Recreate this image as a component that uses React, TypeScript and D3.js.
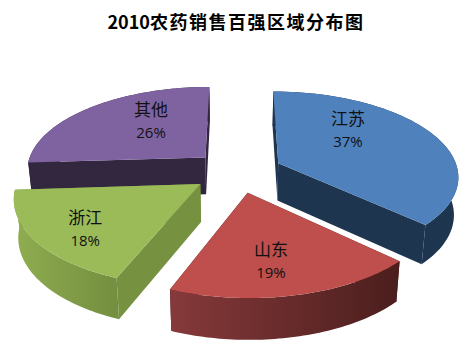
import React from "react";
import * as d3 from "d3";

const categories = ["江苏", "山东", "浙江", "其他"];
const values = [37, 19, 18, 26];
const labels = ["37%", "19%", "18%", "26%"];
const topColors = ["#4F81BD", "#BE4F4C", "#9BBB59", "#7F63A1"];
const faceColors = ["#1E3550", "#4E1F1E", "#769140", "#33263F"];
const arcColorsLeft = ["#1E3550", "#86393A", "#8FAD50", "#33263F"];
const arcColorsRight = ["#1E3550", "#4B1E1D", "#748F40", "#33263F"];
const drawOrder = [3, 0, 2, 1];
// label anchor, relative to each slice's apex, in units of the pie radius
const labelOffsetX = [0.43, 0.107, -0.57, -0.342];
const labelOffsetY = [-0.43, 0.683, 0.478, -0.486];

const cx = 237.5, cy = 171.5, Rx = 180, Ry = 84, persp = 0.14, explode = 0.25;

type P = [number, number];
const project = (X: number, Y: number): P => {
  const w = 1 - persp * Y;
  return [cx + (Rx * X) / w, cy + (Ry * Y) / w];
};
const drop = ([x, y]: P): P => [x + (cx - x) * 0.02, y + 37 + (y - 160) * 0.035];
const line = d3.line<P>().curve(d3.curveLinear);

const pieGen = d3.pie<number>().sort(null).startAngle(0).endAngle(2 * Math.PI);
const arcs = pieGen(values);

export default function App() {
  const slices = arcs.map((a, i) => {
    // d3 angle 0 = 12 o'clock, clockwise
    const t0 = a.startAngle - Math.PI / 2;
    const t1 = a.endAngle - Math.PI / 2;
    const mid = (t0 + t1) / 2;
    const ox = explode * Math.cos(mid);
    const oy = explode * Math.sin(mid);
    const apex = project(ox, oy);
    const outer: P[] = d3.range(0, 61).map((k) => {
      const t = t0 + ((t1 - t0) * k) / 60;
      return project(ox + Math.cos(t), oy + Math.sin(t));
    });
    const top = [apex, ...outer];
    const arcSide = [...outer, ...outer.map(drop).reverse()];
    const startFace = [apex, outer[0], drop(outer[0]), drop(apex)];
    const endFace = [apex, outer[60], drop(outer[60]), drop(apex)];
    const xs = outer.map((p) => p[0]);
    const lab = project(ox + labelOffsetX[i], oy + labelOffsetY[i]);
    return { i, top, arcSide, startFace, endFace, x0: d3.min(xs)!, x1: d3.max(xs)!, lab };
  });
  return (
    <svg width={474} height={358} style={{ position: "absolute", left: 0, top: 0, background: "#fff" }}>
      <defs>
        {slices.map((s) => (
          <linearGradient key={s.i} id={`g${s.i}`} gradientUnits="userSpaceOnUse" x1={s.x0} x2={s.x1} y1={0} y2={0}>
            <stop offset="0" stopColor={arcColorsLeft[s.i]} />
            <stop offset="1" stopColor={arcColorsRight[s.i]} />
          </linearGradient>
        ))}
      </defs>
      <text x={236} y={29} textAnchor="middle" fontFamily="'Noto Sans CJK SC'" fontWeight="700" fontSize={18} fill="#000">
        <tspan>2010</tspan>
        <tspan letterSpacing={1.5}>农药销售百强区域分布图</tspan>
      </text>
      {drawOrder.map((i) => {
        const s = slices[i];
        return (
          <g key={i}>
            <path d={line(s.startFace)! + "Z"} fill={faceColors[i]} />
            <path d={line(s.endFace)! + "Z"} fill={faceColors[i]} />
            <path d={line(s.arcSide)! + "Z"} fill={`url(#g${i})`} />
            <path d={line(s.top)! + "Z"} fill={topColors[i]} />
          </g>
        );
      })}
      {slices.map((s) => (
        <g key={s.i} fontSize={17} fill="#111" textAnchor="middle" fontFamily="'Noto Sans CJK SC'">
          <text x={s.lab[0]} y={s.lab[1] - 5}>{categories[s.i]}</text>
          <text x={s.lab[0]} y={s.lab[1] + 17} fontFamily="'Open Sans'" fontSize={15}>{labels[s.i]}</text>
        </g>
      ))}
    </svg>
  );
}
